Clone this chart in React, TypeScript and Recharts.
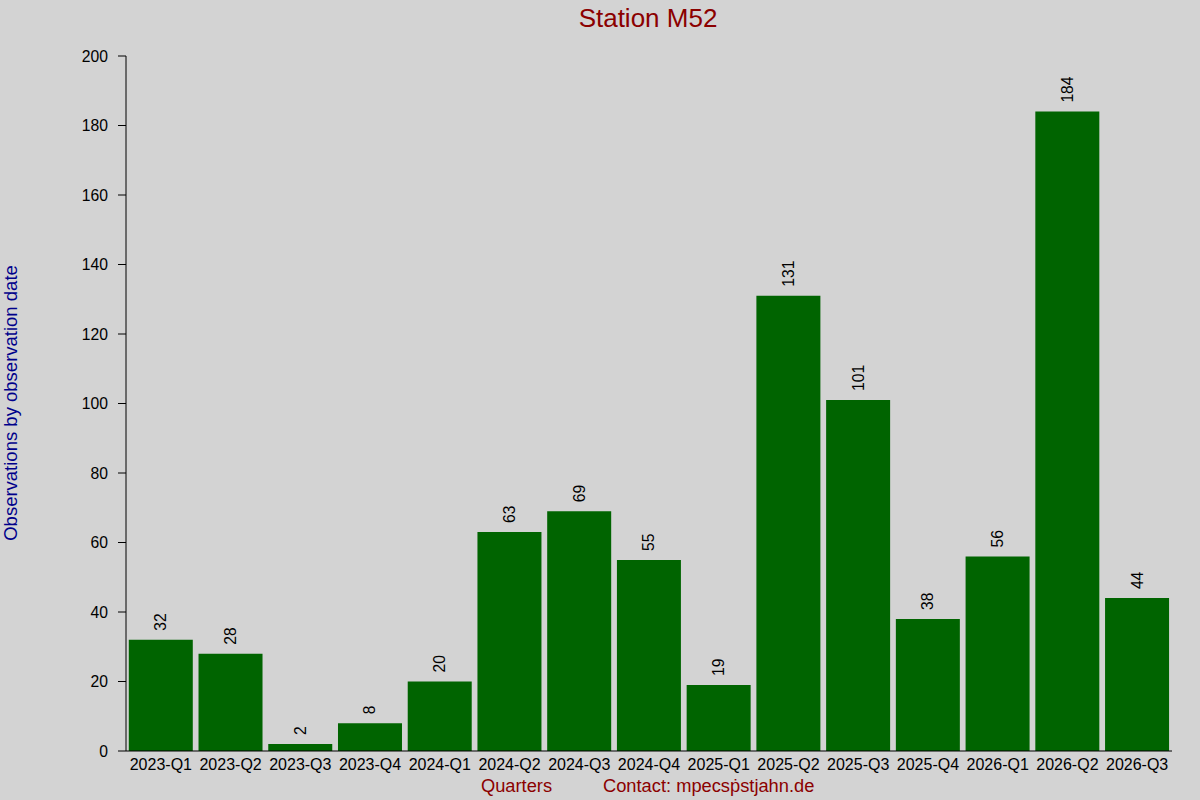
import React from "react";
import { BarChart, Bar, XAxis, YAxis, LabelList } from "recharts";

const quarters = [
  "2023-Q1", "2023-Q2", "2023-Q3", "2023-Q4",
  "2024-Q1", "2024-Q2", "2024-Q3", "2024-Q4",
  "2025-Q1", "2025-Q2", "2025-Q3", "2025-Q4",
  "2026-Q1", "2026-Q2", "2026-Q3",
];
const observations = [32, 28, 2, 8, 20, 63, 69, 55, 19, 131, 101, 38, 56, 184, 44];
const yTicks = [0, 20, 40, 60, 80, 100, 120, 140, 160, 180, 200];

const data = quarters.map((q, i) => ({ quarter: q, value: observations[i] }));

const FONT = "Arial, 'Liberation Sans', sans-serif";

const ValueLabel = (props: any) => {
  const { x, y, width, value } = props;
  const cx = x + width / 2;
  const cy = y - 9;
  return (
    <text
      x={cx}
      y={cy}
      transform={`rotate(-90, ${cx}, ${cy})`}
      textAnchor="start"
      dominantBaseline="central"
      fontSize={15.7}
      fontFamily={FONT}
      fill="#000"
    >
      {value}
    </text>
  );
};

export default function App() {
  return (
    <div
      style={{
        position: "absolute",
        left: 0,
        top: 0,
        width: 1200,
        height: 800,
        background: "#d3d3d3",
        fontFamily: FONT,
      }}
    >
      <BarChart
        width={1200}
        height={800}
        data={data}
        margin={{ top: 56, right: 28, left: 0, bottom: 0 }}
        barCategoryGap="4%"
      >
        <XAxis
          xAxisId="main"
          dataKey="quarter"
          height={49}
          tickLine={false}
          axisLine={{ stroke: "#000", strokeWidth: 1 }}
          tick={{ fill: "#000", fontSize: 16, fontFamily: FONT }}
          tickMargin={2}
          interval={0}
        />
        <XAxis
          xAxisId="top"
          dataKey="quarter"
          orientation="top"
          height={0}
          axisLine={false}
          tick={false}
          tickSize={1}
          tickLine={{ stroke: "#000", strokeWidth: 1 }}
          interval={0}
        />
        <YAxis
          width={126}
          domain={[0, 200]}
          ticks={yTicks}
          interval={0}
          tickSize={8}
          tickMargin={10}
          axisLine={{ stroke: "#000", strokeWidth: 1 }}
          tickLine={{ stroke: "#000", strokeWidth: 1 }}
          tick={{ fill: "#000", fontSize: 15.7, fontFamily: FONT }}
        />
        <Bar xAxisId="main" dataKey="value" fill="#006400" isAnimationActive={false}>
          <LabelList dataKey="value" content={<ValueLabel />} />
        </Bar>
      </BarChart>
      <svg
        width={1200}
        height={800}
        style={{ position: "absolute", left: 0, top: 0, pointerEvents: "none" }}
      >
        <text x={648} y={27} textAnchor="middle" fontSize={26} fontFamily={FONT} fill="#8b0000">
          Station M52
        </text>
        <text
          x={17}
          y={403}
          transform="rotate(-90, 17, 403)"
          textAnchor="middle"
          fontSize={18.5}
          fontFamily={FONT}
          fill="#00008b"
        >
          Observations by observation date
        </text>
        <text x={516.5} y={792} textAnchor="middle" fontSize={18.3} fontFamily={FONT} fill="#8b0000">
          Quarters
        </text>
        <text x={603} y={792} textAnchor="start" fontSize={18.3} fontFamily={FONT} fill="#8b0000">
          Contact: mpecsṗstjahn.de
        </text>
      </svg>
    </div>
  );
}
